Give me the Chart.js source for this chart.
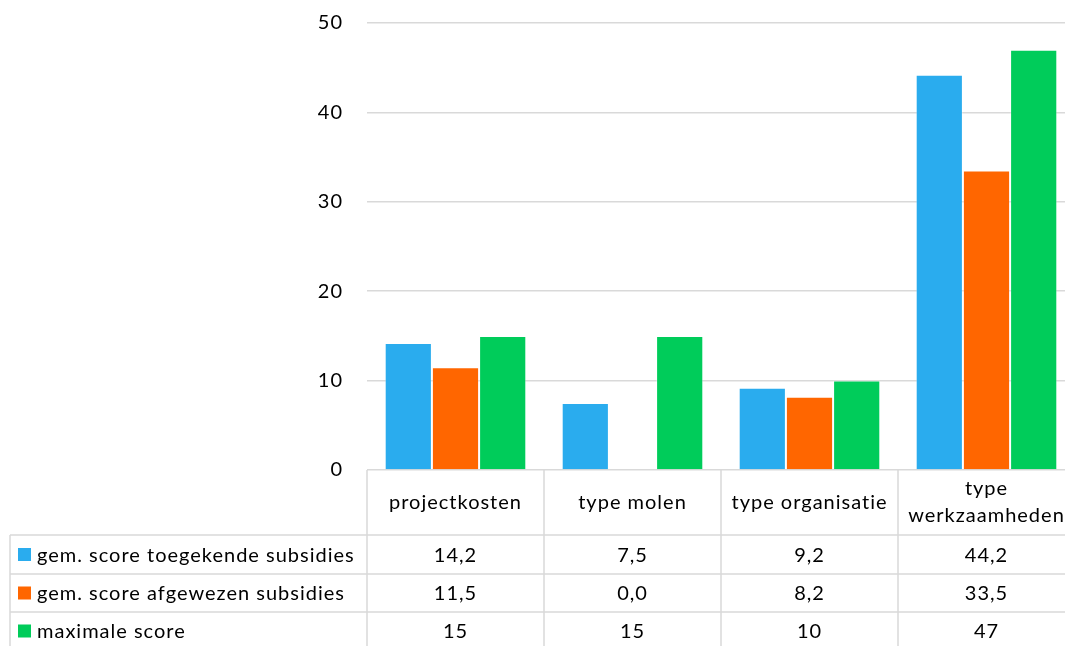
<!DOCTYPE html>
<html>
<head>
<meta charset="utf-8">
<script src="https://cdn.jsdelivr.net/npm/chart.js@4.4.1/dist/chart.umd.min.js"></script>
<style>
  html, body { margin: 0; padding: 0; background: #fff; overflow: hidden; }
  #wrap { width: 1076px; height: 652px; position: relative; }
</style>
</head>
<body>
<div id="wrap"><canvas id="scoreChart"></canvas></div>
<script>
// data
const categories = ['projectkosten', 'type molen', 'type organisatie', ['type', 'werkzaamheden']];
const seriesNames = ['gem. score toegekende subsidies', 'gem. score afgewezen subsidies', 'maximale score'];
const toegekend = [14.2, 7.5, 9.2, 44.2];
const afgewezen = [11.5, 0.0, 8.2, 33.5];
const maximaal = [15, 15, 10, 47];
const decimals = [1, 1, 0];
const colors = ['#2aacee', '#ff6600', '#00cc5a'];
const yMin = 0;
const yMax = 50;
const yStep = 10;

const FONT = 'Lato, "Open Sans", sans-serif';
const FSIZE = 20;
const LINE = '#d9d9d9';

function fmt(v, d) {
    return v.toFixed(d).replace('.', ',');
}

// Calibri-like spacing
const spacing = {
    id: 'spacing',
    beforeDraw(chart) { chart.ctx.letterSpacing = '1px'; }
};

// data table under the plot, drawn from the x scale
const dataTable = {
    id: 'dataTable',
    afterDraw(chart) {
        const c = chart.ctx;
        const x = chart.scales.x;
        const area = chart.chartArea;
        const n = categories.length;
        const colW = x.width / n;
        const rows = [65, 39, 38, 38];
        const tops = [area.bottom];
        rows.forEach((h, i) => tops.push(tops[i] + h));

        c.save();
        c.strokeStyle = LINE;
        c.lineWidth = 1.5;
        c.beginPath();
        for (let r = 1; r < tops.length; r++) {
            c.moveTo(10, tops[r]);
            c.lineTo(area.right, tops[r]);
        }
        for (let i = 0; i <= n; i++) {
            const px = x.left + i * colW;
            c.moveTo(px, tops[0]);
            c.lineTo(px, tops[tops.length - 1]);
        }
        c.moveTo(10, tops[1]);
        c.lineTo(10, tops[tops.length - 1]);
        c.stroke();

        c.letterSpacing = '1px';
        c.fillStyle = '#000';
        c.font = FSIZE + 'px ' + FONT;
        c.textAlign = 'center';
        c.textBaseline = 'middle';

        categories.forEach((cat, i) => {
            const cx = x.getPixelForValue(i);
            const lines = Array.isArray(cat) ? cat : [cat];
            const mid = (tops[0] + tops[1]) / 2;
            lines.forEach((ln, k) => {
                c.fillText(ln, cx, mid + (k - (lines.length - 1) / 2) * 27);
            });
        });

        chart.data.datasets.forEach((ds, s) => {
            const mid = (tops[s + 1] + tops[s + 2]) / 2;
            c.fillStyle = ds.backgroundColor;
            c.fillRect(18, mid - 6.5, 13, 13);
            c.fillStyle = '#000';
            c.textAlign = 'left';
            c.fillText(ds.label, 37, mid + 1);
            c.textAlign = 'center';
            ds.data.forEach((v, i) => {
                c.fillText(fmt(v, decimals[s]), x.getPixelForValue(i), mid + 1);
            });
        });
        c.restore();
    }
};

new Chart(document.getElementById('scoreChart'), {
    type: 'bar',
    data: {
        labels: categories,
        datasets: [toegekend, afgewezen, maximaal].map((d, i) => ({
            label: seriesNames[i],
            data: d,
            backgroundColor: colors[i],
            borderColor: 'rgba(255,255,255,0.35)',
            borderWidth: 1,
            categoryPercentage: 0.8,
            barPercentage: 1.0
        }))
    },
    options: {
        responsive: true,
        maintainAspectRatio: false,
        animation: false,
        layout: { padding: { left: 0, right: 1, top: 23, bottom: 182 } },
        plugins: {
            legend: { display: false },
            tooltip: { enabled: false }
        },
        scales: {
            x: { display: false },
            y: {
                min: yMin,
                max: yMax,
                afterFit(scale) { scale.width = 367; },
                border: { display: false },
                grid: { color: LINE, lineWidth: 1.5, drawTicks: true, tickLength: 24, tickColor: 'transparent' },
                ticks: {
                    stepSize: yStep,
                    color: '#000',
                    padding: 0,
                    font: { family: FONT, size: FSIZE }
                }
            }
        }
    },
    plugins: [spacing, dataTable]
});
</script>
</body>
</html>
